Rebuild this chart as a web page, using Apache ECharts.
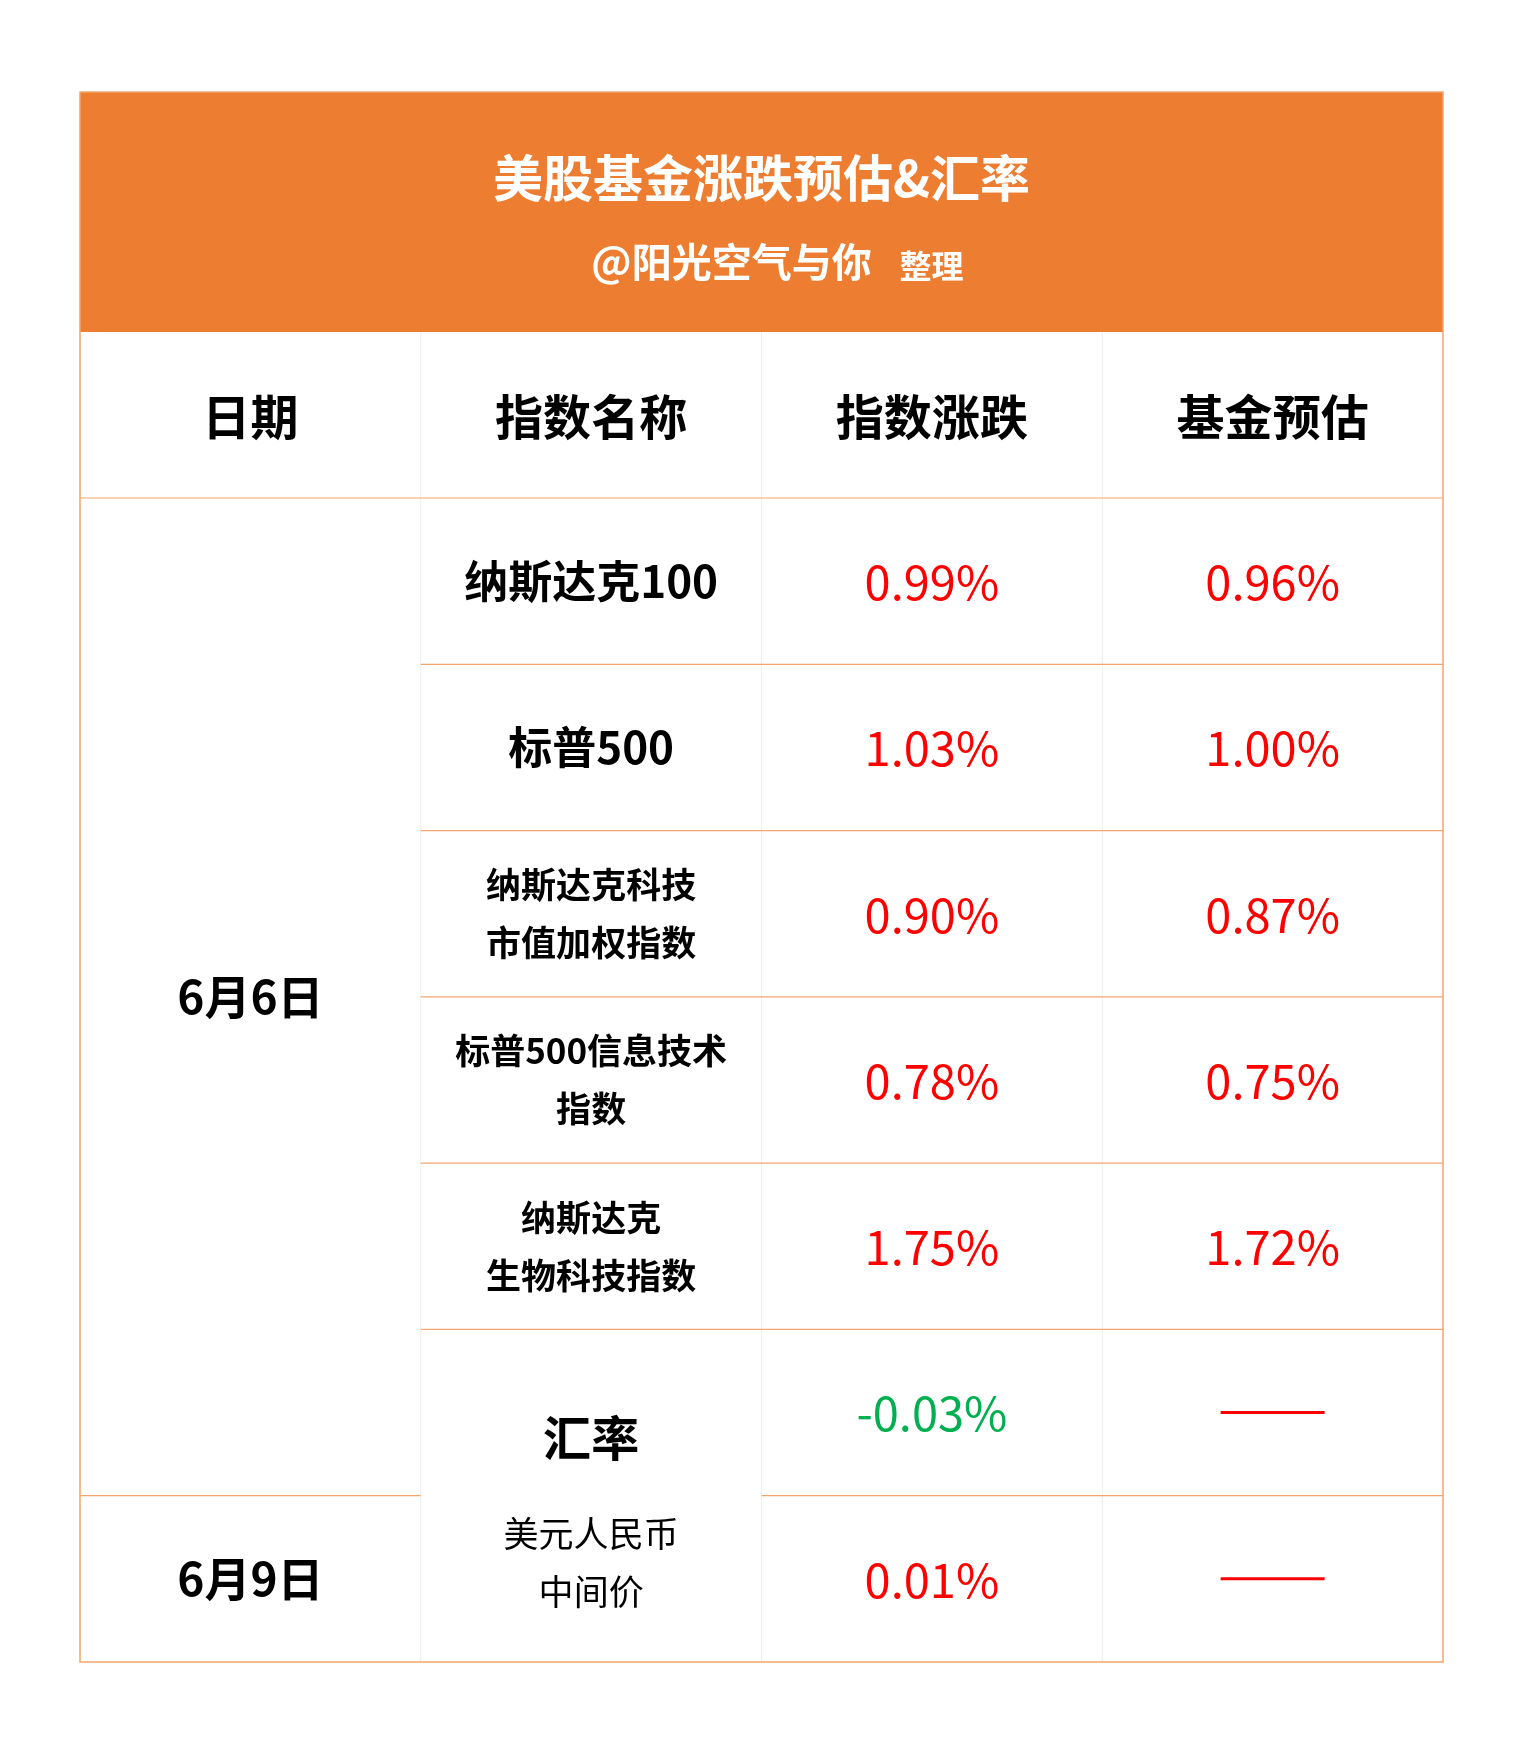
<!DOCTYPE html>
<html><head><meta charset="utf-8">
<script src="https://cdn.jsdelivr.net/npm/echarts@6/dist/echarts.min.js"></script>
<style>html,body{margin:0;background:#fff}#c{width:1522px;height:1744px}</style>
</head><body><div id="c"></div>
<script>
const title = '美股基金涨跌预估&汇率';
const subtitle = '@阳光空气与你';
const subtitleTail = '整理';
const headers = ['日期', '指数名称', '指数涨跌', '基金预估'];
const names = ['纳斯达克100', '标普500', '纳斯达克科技\n市值加权指数', '标普500信息技术\n指数', '纳斯达克\n生物科技指数'];
const indexChange = ['0.99%', '1.03%', '0.90%', '0.78%', '1.75%', '-0.03%', '0.01%'];
const fundEstimate = ['0.96%', '1.00%', '0.87%', '0.75%', '1.72%', null, null];
const dates = ['6月6日', '6月9日'];
const rateName = '汇率';
const rateSub = '美元人民币\n中间价';

const FONT = '"Noto Sans CJK SC", sans-serif';
const L = 80, R = 1443, T = 92, HB = 332, HR = 498, B = 1662;
const W = R - L, cw = W / 4, rh = (B - HR) / 7;
const ORANGE = '#ED7D31', LINE = '#F2A56E', VLINE = '#EEEEEE';
const els = [];
const cx = i => L + cw * i + cw / 2;
const ry = r => HR + rh * r;
function txt(x, y, s, size, color, weight, lh) {
  els.push({type: 'text', x, y, style: {text: s, fill: color, font: `${weight} ${size}px ${FONT}`, align: 'center', verticalAlign: 'middle', lineHeight: lh || size * 1.3}});
}
function line(x1, y1, x2, y2, c, w) {
  els.push({type: 'line', shape: {x1, y1, x2, y2}, style: {stroke: c, lineWidth: w || 1}});
}
els.push({type: 'rect', shape: {x: L, y: T, width: W, height: HB - T}, style: {fill: ORANGE}});
txt(L + W / 2, 178, title, 50, '#fff', 'bold');
txt(L + W / 2 - 30, 262, subtitle, 40, '#fff', 'bold');
txt(L + W / 2 + 170, 266, subtitleTail, 32, '#fff', 'bold');
// vertical lines
for (let i = 1; i < 4; i++) line(L + cw * i, HB, L + cw * i, B, VLINE, 1);
// horizontal lines
line(L, HR, R, HR, LINE, 1.2);
for (let r = 1; r < 7; r++) {
  if (r === 6) line(L, ry(r), L + cw, ry(r), LINE, 1.2);
  else if (r < 6) line(L + cw, ry(r), R, ry(r), LINE, 1.2);
  if (r === 6) line(L + 2 * cw, ry(r), R, ry(r), LINE, 1.2);
}
// outer border
els.push({type: 'rect', shape: {x: L, y: T, width: W, height: B - T}, style: {fill: 'none', stroke: LINE, lineWidth: 1.5}});
headers.forEach((h, i) => txt(cx(i), (HB + HR) / 2 + 2, h, 48, '#000', 'bold'));
txt(cx(0), (ry(0) + ry(6)) / 2, dates[0], 46, '#000', 'bold');
txt(cx(0), (ry(6) + ry(7)) / 2, dates[1], 46, '#000', 'bold');
names.forEach((n, r) => {
  const multi = n.indexOf('\n') >= 0;
  txt(cx(1), (ry(r) + ry(r + 1)) / 2, n, multi ? 35 : 44, '#000', 'bold', multi ? 58 : 55);
});
txt(cx(1), ry(5) + rh * 0.65, rateName, 48, '#000', 'bold');
txt(cx(1), ry(5) + rh * 1.4, rateSub, 35, '#000', 'normal', 58);
indexChange.forEach((v, r) => {
  const col = v.startsWith('-') ? '#00B050' : '#FF0000';
  txt(cx(2), (ry(r) + ry(r + 1)) / 2 + 1, v, 47, col, 'normal');
  const f = fundEstimate[r];
  if (f) txt(cx(3), (ry(r) + ry(r + 1)) / 2 + 1, f, 47, '#FF0000', 'normal');
  else line(cx(3) - 52, (ry(r) + ry(r + 1)) / 2, cx(3) + 52, (ry(r) + ry(r + 1)) / 2, '#FF0000', 3);
});
const chart = echarts.init(document.getElementById('c'));
chart.setOption({backgroundColor: '#fff', graphic: {elements: els}});
</script></body></html>
